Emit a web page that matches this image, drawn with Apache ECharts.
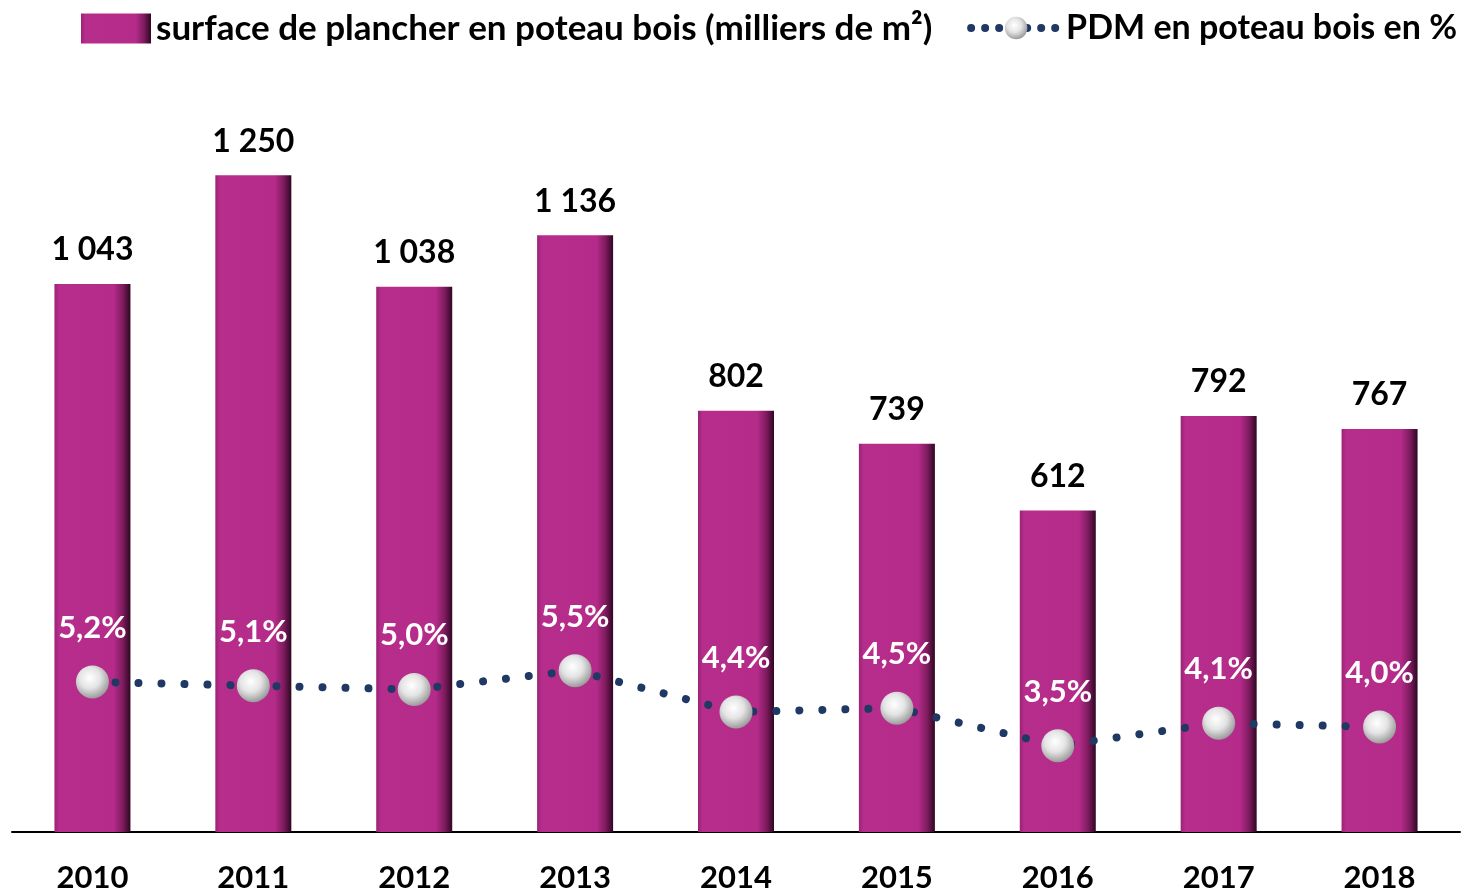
<!DOCTYPE html>
<html>
<head>
<meta charset="utf-8">
<title>Poteau bois</title>
<script src="https://cdn.jsdelivr.net/npm/echarts@6/dist/echarts.min.js"></script>
<style>
  html, body { margin: 0; padding: 0; background: #fff; }
  #chart { width: 1470px; height: 896px; }
</style>
</head>
<body>
<div id="chart"></div>
<script>
// data
var years = ['2010', '2011', '2012', '2013', '2014', '2015', '2016', '2017', '2018'];
var surface = [1043, 1250, 1038, 1136, 802, 739, 612, 792, 767];   // milliers de m²
var pdm = [5.2, 5.1, 5.0, 5.5, 4.4, 4.5, 3.5, 4.1, 4.0];           // %

var barName = 'surface de plancher en poteau bois (milliers de m²)';
var lineName = 'PDM en poteau bois en %';
var font = 'Lato, "Open Sans", sans-serif';

var chart = echarts.init(document.getElementById('chart'));

var barColor = new echarts.graphic.LinearGradient(0, 0, 1, 0, [
  { offset: 0, color: '#9a2276' },
  { offset: 0.06, color: '#b62d8b' },
  { offset: 0.78, color: '#b52b8a' },
  { offset: 0.9, color: '#7e1b5e' },
  { offset: 1, color: '#2e0722' }
]);
var ball = new echarts.graphic.RadialGradient(0.42, 0.38, 0.7, [
  { offset: 0, color: '#ffffff' },
  { offset: 0.45, color: '#e4e4e4' },
  { offset: 1, color: '#8a8a8a' }
]);

chart.setOption({
  animation: false,
  legend: [{
    data: [{ name: barName, icon: 'rect' }],
    left: 76,
    top: 6,
    itemWidth: 70,
    itemHeight: 30,
    itemGap: 8,
    textStyle: { fontFamily: font, fontWeight: 'bold', fontSize: 35, color: '#000' }
  }, {
    data: [lineName],
    right: 8,
    top: 6,
    itemWidth: 90,
    itemHeight: 28,
    itemGap: 8,
    lineStyle: { color: '#1f3864', width: 8, type: [0.01, 14], cap: 'round' },
    textStyle: { fontFamily: font, fontWeight: 'bold', fontSize: 34, color: '#000' }
  }],
  grid: { left: 12, right: 10, top: 44, bottom: 64, containLabel: false },
  xAxis: {
    type: 'category',
    data: years,
    axisLine: { lineStyle: { color: '#000', width: 2 } },
    axisTick: { show: false },
    axisLabel: { margin: 30, fontFamily: font, fontWeight: 'bold', fontSize: 31, color: '#000' }
  },
  yAxis: [{
    type: 'value', min: 0, max: 1500,
    show: false, splitLine: { show: false }
  }, {
    type: 'value', min: 1.2, max: 22.2,
    show: false, splitLine: { show: false }
  }],
  series: [{
    name: barName,
    type: 'bar',
    barWidth: 76,
    data: surface,
    itemStyle: { color: barColor },
    label: {
      show: true,
      position: 'top',
      distance: 18,
      fontFamily: font,
      fontWeight: 'bold',
      fontSize: 32,
      color: '#000',
      formatter: function (p) {
        return String(p.value).replace(/\B(?=(\d{3})+(?!\d))/g, ' ');
      }
    }
  }, {
    name: lineName,
    type: 'line',
    yAxisIndex: 1,
    data: pdm,
    symbol: 'circle',
    symbolSize: 33,
    itemStyle: { color: ball, borderWidth: 0 },
    lineStyle: { color: '#1f3864', width: 8, type: [0.01, 23], cap: 'round' },
    label: {
      show: true,
      position: 'top',
      distance: 22,
      fontFamily: font,
      fontWeight: 'bold',
      fontSize: 31,
      color: '#fff',
      formatter: function (p) {
        return p.value.toFixed(1).replace('.', ',') + '%';
      }
    },
    z: 5
  }]
});
</script>
</body>
</html>
